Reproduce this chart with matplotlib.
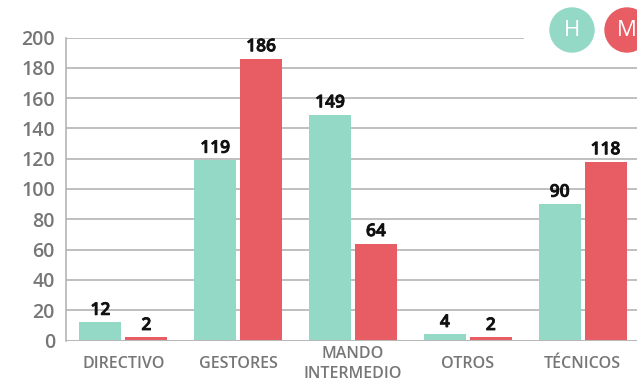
import matplotlib
matplotlib.use('Agg')
import matplotlib.pyplot as plt
import matplotlib.patheffects as pe
from matplotlib import font_manager
from matplotlib.font_manager import FontProperties
from matplotlib.patches import Ellipse
import numpy as np

categories = ['DIRECTIVO', 'GESTORES', 'MANDO\nINTERMEDIO', 'OTROS', 'TÉCNICOS']
hombres = [12, 119, 149, 4, 90]
mujeres = [2, 186, 64, 2, 118]
yticks = [0, 20, 40, 60, 80, 100, 120, 140, 160, 180, 200]

TEAL = '#94d9c6'
RED = '#e85d64'
GRID = '#b4b4b4'
LABEL = '#767676'


def font_file(family, weight):
    # pick an upright, non-condensed face of the family closest to the weight
    found = []
    for f in font_manager.fontManager.ttflist:
        if f.name != family or f.style != 'normal':
            continue
        if 'Cond' in f.fname or 'cond' in f.fname or f.stretch not in ('normal', 400, 500):
            continue
        wt = f.weight if isinstance(f.weight, int) else font_manager.weight_dict.get(f.weight, 400)
        found.append((abs(wt - weight), f.fname))
    if not found:
        return None
    return sorted(found)[0][1]


def fp(weight, size):
    path = font_file('Open Sans', weight)
    if path:
        return FontProperties(fname=path, size=size)
    return FontProperties(family='DejaVu Sans', weight=weight, size=size)


W, H = 637, 382
fig = plt.figure(figsize=(W / 100, H / 100), dpi=100)
ax = fig.add_axes([66 / W, 41.5 / H, 574 / W, 303 / H])

x = np.arange(len(categories))
w = 0.366
ax.bar(x - 0.2, hombres, w, color=TEAL, zorder=3)
ax.bar(x + 0.2, mujeres, w, color=RED, zorder=3)

# value labels, thickened a little with a thin stroke
val_font = fp(600, 12.5)
heavy = [pe.withStroke(linewidth=0.6, foreground='#111111')]
for xi, h, m in zip(x, hombres, mujeres):
    ax.annotate(str(h), (xi - 0.2, h), xytext=(0, 2.5), textcoords='offset points',
                ha='center', va='bottom', fontproperties=val_font, color='#111111',
                path_effects=heavy)
    ax.annotate(str(m), (xi + 0.2, m), xytext=(0, 2.5), textcoords='offset points',
                ha='center', va='bottom', fontproperties=val_font, color='#111111',
                path_effects=heavy)

ax.set_xlim(-0.5, len(categories) - 0.5)
ax.set_ylim(0, 200)

# horizontal grid; the top line stops short of the legend badges
for t in yticks[1:-1]:
    ax.axhline(t, color=GRID, lw=1.2, zorder=1)
ax.axhline(200, xmax=(523 - 66) / 574, color=GRID, lw=1.2, zorder=1)
ax.axhline(0, color='#b8b8b8', lw=2.2, zorder=4)

for s in ['top', 'right', 'bottom']:
    ax.spines[s].set_visible(False)
ax.spines['left'].set_color(GRID)
ax.spines['left'].set_linewidth(1.2)

ax.set_yticks(yticks)
ax.set_yticklabels([str(t) for t in yticks], fontproperties=fp(600, 14), color=LABEL)
ax.tick_params(axis='y', length=0, pad=8)
ax.set_xticks([])

cat_font = fp(600, 11.5)
for xi, c in zip(x, categories):
    ax.text(xi, -15.5, c, ha='center', va='center', fontproperties=cat_font,
            color=LABEL, linespacing=1.3, transform=ax.transData, clip_on=False)

# legend badges
badge_font = fp(400, 16)
for cx, letter, col in [(572, 'H', TEAL), (627, 'M', RED)]:
    fig.patches.append(Ellipse((cx / W, 1 - 30 / H), 44 / W, 44 / H, color=col,
                               transform=fig.transFigure, figure=fig))
    fig.text(cx / W, 1 - 30 / H, letter, ha='center', va='center',
             fontproperties=badge_font, color='white')

fig.savefig('out.png', dpi=100)
